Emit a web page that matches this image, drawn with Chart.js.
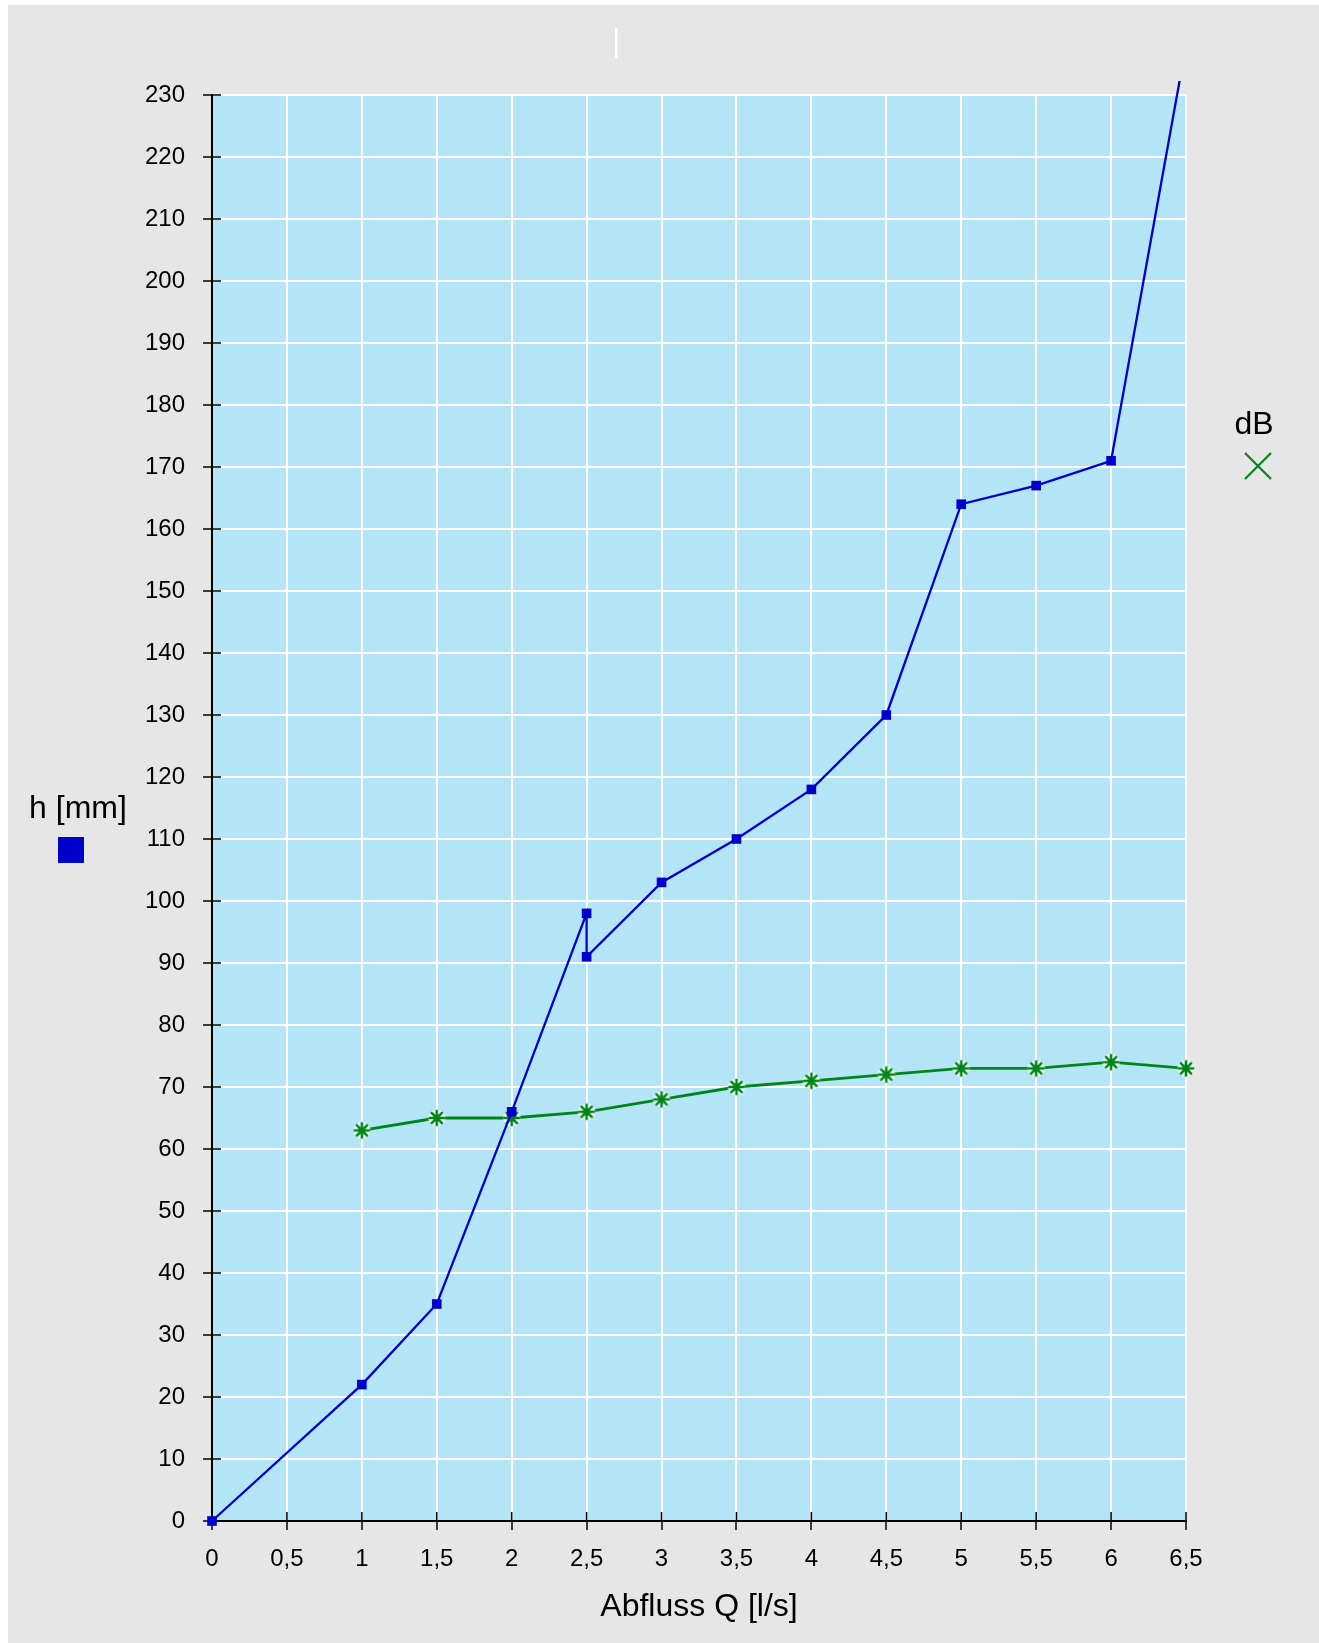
<!DOCTYPE html>
<html><head><meta charset="utf-8">
<script src="https://cdn.jsdelivr.net/npm/chart.js@4/dist/chart.umd.min.js"></script>
<style>html,body{margin:0;padding:0;background:#fff;}canvas{display:block;}</style>
</head><body><canvas id="c" width="1319" height="1643"></canvas>
<script>
// ---- data ----
const hX = [0, 1, 1.5, 2, 2.5, 2.5, 3, 3.5, 4, 4.5, 5, 5.5, 6, 6.5];
const hY = [0, 22, 35, 66, 98, 91, 103, 110, 118, 130, 164, 167, 171, 238];
const dbX = [1, 1.5, 2, 2.5, 3, 3.5, 4, 4.5, 5, 5.5, 6, 6.5];
const dbY = [63, 65, 65, 66, 68, 70, 71, 72, 73, 73, 74, 73];
const xTickLabels = ['0','0,5','1','1,5','2','2,5','3','3,5','4','4,5','5','5,5','6','6,5'];
const yTickLabels = ['0','10','20','30','40','50','60','70','80','90','100','110','120','130','140','150','160','170','180','190','200','210','220','230'];
const xTitle = 'Abfluss Q [l/s]';
const hLabel = 'h [mm]';
const dbLabel = 'dB';

const BLUE = '#0000cc', GREEN = '#00851a', FONT = '"Liberation Sans", Arial, Helvetica, sans-serif';

function makeStar(){
  const c = document.createElement('canvas'); c.width = 24; c.height = 24;
  const g = c.getContext('2d'); const cx = 12, cy = 12, r = 8.3;
  g.lineCap = 'butt';
  function arms(){ g.beginPath(); for (let i = 0; i < 4; i++){ const a = i*Math.PI/4;
    g.moveTo(cx + r*Math.cos(a), cy + r*Math.sin(a)); g.lineTo(cx - r*Math.cos(a), cy - r*Math.sin(a)); } g.stroke(); }
  g.strokeStyle = '#fff'; g.lineWidth = 5.5; arms();
  g.strokeStyle = GREEN; g.lineWidth = 2.6; arms();
  return c;
}

const decor = {
  id: 'decor',
  beforeDraw(chart){
    const {ctx, chartArea: a} = chart;
    ctx.save();
    ctx.fillStyle = '#e6e6e6'; ctx.fillRect(8, 5, chart.width - 8, chart.height - 5);
    ctx.fillStyle = '#b3e5f7'; ctx.fillRect(a.left, a.top, a.right - a.left, a.bottom - a.top);
    ctx.fillStyle = '#ffffff'; ctx.fillRect(615, 28, 2.5, 30);
    ctx.restore();
  },
  beforeDatasetsDraw(chart){
    const {ctx, chartArea: a, scales: {x, y}} = chart;
    ctx.save(); ctx.strokeStyle = '#000'; ctx.lineWidth = 1.5; ctx.beginPath();
    x.ticks.forEach(t => { const px = x.getPixelForValue(t.value); ctx.moveTo(px, a.bottom - 9); ctx.lineTo(px, a.bottom); });
    y.ticks.forEach(t => { const py = y.getPixelForValue(t.value); ctx.moveTo(a.left, py); ctx.lineTo(a.left + 9, py); });
    ctx.stroke(); ctx.restore();
  },
  afterDraw(chart){
    const {ctx} = chart;
    ctx.save();
    ctx.fillStyle = '#000'; ctx.font = '32px ' + FONT; ctx.textAlign = 'center'; ctx.textBaseline = 'alphabetic';
    ctx.fillText(hLabel, 78, 818);
    ctx.fillText(dbLabel, 1254, 434);
    ctx.fillStyle = BLUE; ctx.fillRect(58, 837, 26, 26);
    ctx.strokeStyle = GREEN; ctx.lineWidth = 2.2; ctx.beginPath();
    ctx.moveTo(1245, 453); ctx.lineTo(1271, 479); ctx.moveTo(1271, 453); ctx.lineTo(1245, 479); ctx.stroke();
    ctx.restore();
  }
};

new Chart(document.getElementById('c'), {
  type: 'line',
  data: {
    datasets: [
      { label: hLabel, data: hX.map((v, i) => ({x: v, y: hY[i]})), borderColor: BLUE, backgroundColor: BLUE,
        borderWidth: 2.3, pointStyle: 'rect', pointRadius: 6.8, pointBorderWidth: 0, tension: 0,
        clip: {left: 12, top: 14, right: 12, bottom: 12} },
      { label: dbLabel, data: dbX.map((v, i) => ({x: v, y: dbY[i]})), borderColor: GREEN, backgroundColor: GREEN,
        borderWidth: 2.8, pointStyle: makeStar(), pointRadius: 9, tension: 0,
        clip: {left: 12, top: 14, right: 14, bottom: 12} }
    ]
  },
  options: {
    responsive: false, animation: false, events: [],
    layout: { padding: { top: 95, right: 133, left: 0, bottom: 0 } },
    plugins: { legend: { display: false }, tooltip: { enabled: false }, title: { display: false } },
    scales: {
      x: {
        type: 'linear', min: 0, max: 6.5,
        afterFit: s => { s.height = 122; },
        ticks: { stepSize: 0.5, color: '#000', font: { family: FONT, size: 24 }, padding: 15,
                 callback: (v, i) => xTickLabels[i] },
        grid: { color: '#fff', lineWidth: 2, tickColor: '#000', tickLength: 9, tickWidth: 1.5 },
        border: { display: true, color: '#000', width: 2 },
        title: { display: true, text: xTitle, color: '#000', font: { family: FONT, size: 32 }, padding: { top: 0, bottom: 17 } }
      },
      y: {
        type: 'linear', min: 0, max: 230,
        afterFit: s => { s.width = 212; },
        ticks: { stepSize: 10, color: '#000', font: { family: FONT, size: 24 }, padding: 18,
                 callback: (v, i) => yTickLabels[i] },
        grid: { color: '#fff', lineWidth: 2, tickColor: '#000', tickLength: 9, tickWidth: 1.5 },
        border: { display: true, color: '#000', width: 2 }
      }
    }
  },
  plugins: [decor]
});
</script></body></html>
